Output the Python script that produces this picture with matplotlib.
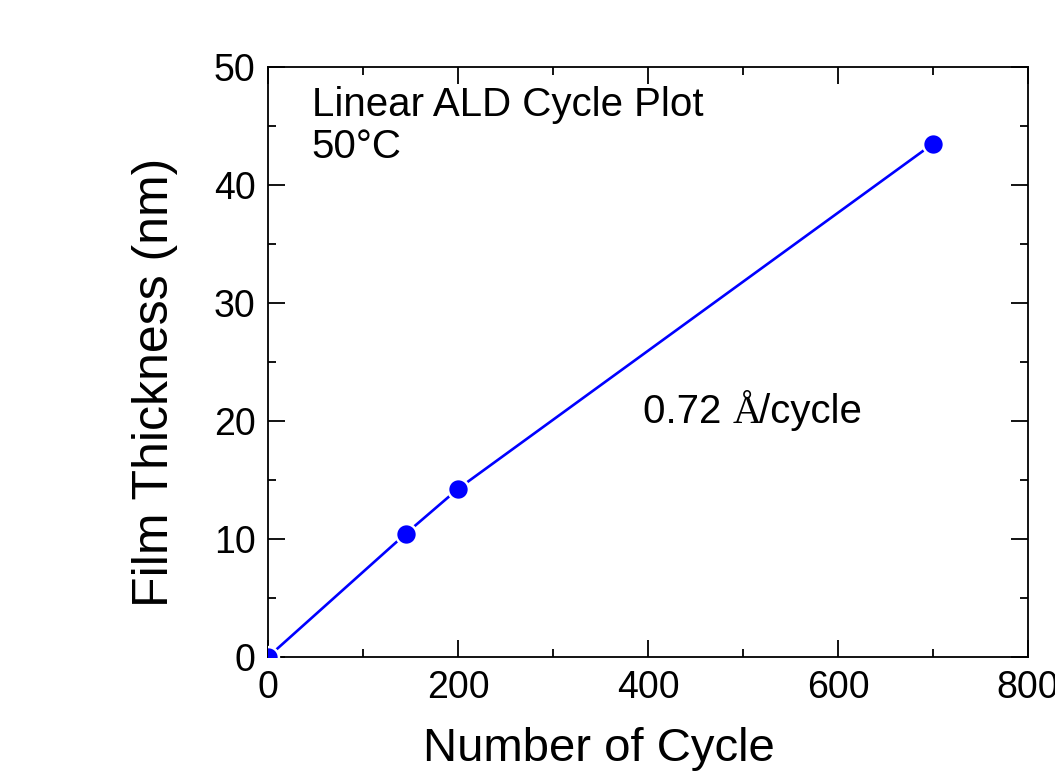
import matplotlib
matplotlib.use('Agg')
import matplotlib.pyplot as plt
from matplotlib.ticker import MultipleLocator

# data
cycles = [0, 145, 200, 700]
thickness = [0.0, 10.45, 14.25, 43.5]

sans = ['Liberation Sans', 'DejaVu Sans']
serif = ['Liberation Serif', 'DejaVu Serif']

fig = plt.figure(figsize=(10.55, 7.76), dpi=100)
ax = fig.add_axes([268 / 1055, 1 - 657 / 776, 760 / 1055, 590 / 776])

ax.plot(cycles, thickness, '-o', color='#0000ff', lw=1.9, ms=15,
        mfc='#0000ff', mec='white', mew=1.8, zorder=3)

ax.set_xlim(0, 800)
ax.set_ylim(0, 50)
ax.xaxis.set_major_locator(MultipleLocator(200))
ax.xaxis.set_minor_locator(MultipleLocator(100))
ax.yaxis.set_major_locator(MultipleLocator(10))
ax.yaxis.set_minor_locator(MultipleLocator(5))
ax.tick_params(which='both', direction='in', top=True, right=True, width=1.3)
ax.tick_params(which='major', length=12, pad=9)
ax.tick_params(which='minor', length=6)
for sp in ax.spines.values():
    sp.set_linewidth(1.3)
for lab in ax.get_xticklabels() + ax.get_yticklabels():
    lab.set_family(sans)
    lab.set_fontsize(27)

ax.set_xlabel('Number of Cycle', fontsize=34, family=sans, va='top')
ax.set_ylabel('Film Thickness (nm)', fontsize=36, family=sans)
ax.xaxis.set_label_coords(0.4355, -0.118)
ax.yaxis.set_label_coords(-0.118, 0.465)

ax.text(46, 48.4, 'Linear ALD Cycle Plot\n50\u00b0C', fontsize=29, family=sans,
        va='top', ha='left', linespacing=1.15)

# slope annotation, the Angstrom sign is set in a serif face
t1 = ax.text(395, 19.8, '0.72 ', fontsize=29, family=sans, va='baseline')
fig.canvas.draw()
bb = t1.get_window_extent()
x1 = ax.transData.inverted().transform((bb.x1, bb.y0))[0]
t2 = ax.text(x1, 19.8, '\u00c5', fontsize=29, family=serif, va='baseline')
fig.canvas.draw()
bb = t2.get_window_extent()
x2 = ax.transData.inverted().transform((bb.x1, bb.y0))[0]
ax.text(x2 - 3, 19.8, '/cycle', fontsize=29, family=sans, va='baseline')

fig.savefig('out.png', dpi=100)
